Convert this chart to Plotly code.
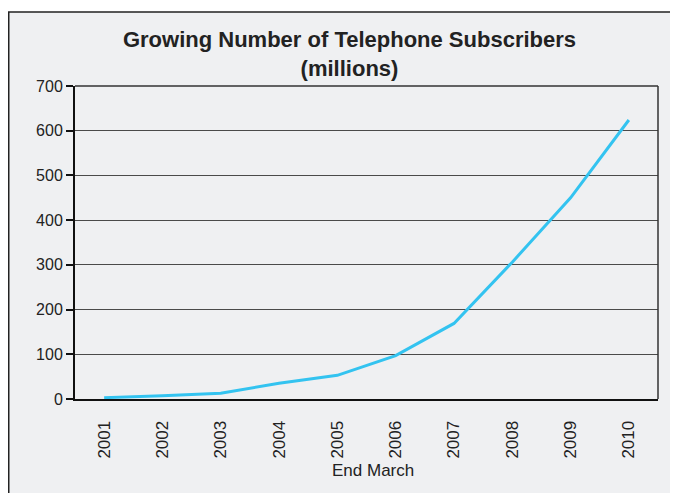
import plotly.graph_objects as go

years = ["2001", "2002", "2003", "2004", "2005", "2006", "2007", "2008", "2009", "2010"]
subscribers = [3, 7, 13, 35, 53, 97, 169, 306, 450, 624]
y_ticks = [0, 100, 200, 300, 400, 500, 600, 700]

title_text = "Growing Number of Telephone Subscribers<br>(millions)"
x_title = "End March"

FONT = "Liberation Sans, Arial, sans-serif"
BG = "#eff0f2"

# figure is drawn at an 8px page offset; work in figure pixels
W, H = 670, 485
L, R, T, B = 67, 20, 78, 94
PW, PH = W - L - R, H - T - B


def px(xf):
    return (xf - L) / PW


def py(yf):
    return (H - B - yf) / PH


fig = go.Figure()
fig.add_trace(go.Scatter(
    x=years, y=subscribers, mode="lines",
    line=dict(color="#33c3f0", width=3),
    showlegend=False, hoverinfo="x+y",
))

fig.update_layout(
    width=W, height=H,
    margin=dict(l=L, r=R, t=T, b=B, autoexpand=False),
    paper_bgcolor="white",
    plot_bgcolor=BG,
    font=dict(family=FONT, size=16, color="#222222"),
    title=dict(
        text="<b>" + title_text + "</b>",
        x=341.5 / W, xanchor="center", xref="container",
        y=1 - 39 / H, yanchor="top", yref="container",
        font=dict(family=FONT, size=22, color="#222222"),
    ),
    xaxis=dict(
        type="category", range=[-0.5, 9.5],
        showgrid=False, zeroline=False, automargin=False,
        showline=True, linecolor="#111111", linewidth=2,
        ticks="", tickangle=-90, ticklabelstandoff=13,
        tickfont=dict(size=17, color="#222222"),
        fixedrange=True,
    ),
    yaxis=dict(
        range=[0, 700], tickvals=y_ticks, automargin=False,
        showgrid=True, gridcolor="#4a4a4a", gridwidth=1.3,
        zeroline=False,
        showline=True, linecolor="#111111", linewidth=2,
        ticks="outside", ticklen=7, tickcolor="#111111", tickwidth=1.5,
        tickfont=dict(size=16, color="#222222"),
        fixedrange=True,
    ),
    shapes=[
        dict(type="rect", xref="paper", yref="paper",
             x0=px(0.75), x1=px(W + 20),
             y0=py(H + 20), y1=py(4),
             line=dict(color="#222222", width=1.5), fillcolor=BG, layer="below"),
        dict(type="line", xref="paper", yref="paper", x0=0, x1=1, y0=1, y1=1,
             line=dict(color="#333333", width=1.5)),
        dict(type="line", xref="paper", yref="paper", x0=1, x1=1, y0=0, y1=1,
             line=dict(color="#333333", width=1.5)),
    ],
    annotations=[
        dict(text=x_title, xref="paper", yref="paper",
             x=px(365), y=py(462),
             xanchor="center", yanchor="middle", showarrow=False,
             font=dict(family=FONT, size=17, color="#222222")),
    ],
)

fig.write_html("out.html")
